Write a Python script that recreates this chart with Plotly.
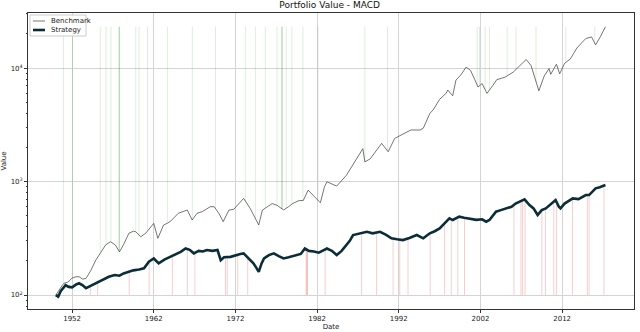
import math
import pandas as pd
import plotly.graph_objects as go

# ---------------- data ----------------
bench_years = [1950.0, 1950.4, 1950.8, 1951.0, 1951.5, 1952.0, 1952.5, 1952.85, 1953.3, 1953.7,
               1954.3, 1954.9, 1955.5, 1956.1, 1956.7, 1957.3, 1957.8, 1958.3, 1958.95, 1959.5,
               1959.8, 1960.4, 1961.0, 1961.5, 1962.0, 1962.5, 1963.2, 1963.7, 1964.1, 1965.0,
               1965.5, 1966.1, 1966.7, 1967.3, 1968.0, 1968.9, 1969.4, 1970.0, 1970.5, 1971.2,
               1971.8, 1972.5, 1973.0, 1973.8, 1974.4, 1974.85, 1975.3, 1975.9, 1976.5, 1977.1,
               1977.9, 1978.5, 1979.0, 1979.8, 1980.3, 1980.9, 1981.5, 1982.4, 1982.9, 1983.2,
               1984.4, 1985.6, 1986.6, 1987.6, 1987.85, 1988.5, 1989.9, 1990.7, 1991.5, 1992.5,
               1993.5, 1994.6, 1995.0, 1995.8, 1996.2, 1997.0, 1997.8, 1998.0, 1998.6, 1999.0,
               1999.6, 2000.25, 2000.8, 2001.3, 2001.7, 2002.2, 2002.8, 2003.5, 2004.0, 2005.0,
               2006.0, 2007.0, 2007.6, 2008.2, 2008.8, 2009.15, 2009.8, 2010.4, 2010.6, 2011.3,
               2011.7, 2012.3, 2013.0, 2013.8, 2014.5, 2014.9, 2015.6, 2015.9, 2016.1, 2016.7,
               2017.3]
bench_vals = [100, 112, 122, 127, 130, 141, 145, 145, 138, 140,
              165, 203, 240, 276, 295, 276, 240, 278, 350, 365,
              361, 326, 350, 390, 428, 316, 414, 430, 450, 525,
              540, 561, 458, 525, 545, 600, 600, 520, 443, 560,
              570, 650, 711, 580, 480, 414, 560, 600, 640, 617,
              561, 600, 640, 680, 680, 840, 760, 650, 900, 995,
              912, 1140, 1490, 1950, 1490, 1585, 2170, 1830, 2400, 2600,
              2850, 2840, 2950, 3980, 4270, 5300, 6000, 6400, 5700, 7830,
              8700, 10200, 9500, 7900, 6800, 7300, 5980, 7000, 7900, 8300,
              9200, 10800, 11900, 10500, 7500, 6300, 8500, 9900, 8800, 10800,
              8900, 11000, 12000, 15000, 17000, 18200, 18800, 17000, 16000, 19000,
              23100]

strat_years = [1950.0, 1950.3, 1950.6, 1951.2, 1951.6, 1952.0, 1952.5, 1952.85, 1953.3, 1953.7,
               1954.2, 1954.9, 1955.5, 1956.0, 1956.5, 1957.2, 1957.8, 1958.3, 1958.8, 1959.5,
               1960.2, 1960.8, 1961.4, 1962.0, 1962.6, 1963.3, 1964.0, 1964.5, 1965.3, 1965.9,
               1966.4, 1966.9, 1967.5, 1968.0, 1968.5, 1969.2, 1969.8, 1970.2, 1970.6, 1971.4,
               1972.0, 1972.6, 1973.0, 1973.6, 1974.2, 1974.6, 1974.85, 1975.2, 1975.5, 1976.1,
               1976.7, 1977.3, 1977.9, 1978.5, 1979.3, 1980.0, 1980.5, 1981.0, 1981.6, 1982.2,
               1982.4, 1983.2, 1983.8, 1984.4, 1985.0, 1985.6, 1986.0, 1986.4, 1987.0, 1987.6,
               1988.1, 1988.8, 1989.7, 1990.4, 1991.1, 1991.8, 1992.5, 1993.3, 1994.2, 1995.0,
               1995.8, 1996.4, 1997.0, 1997.6, 1998.2, 1998.6, 1999.4, 2000.0, 2000.66, 2001.5,
               2002.2, 2002.7, 2003.1, 2003.9, 2004.5, 2005.1, 2005.8, 2006.3, 2006.8, 2007.4,
               2008.0, 2008.5, 2009.0, 2009.5, 2010.0, 2010.5, 2011.2, 2011.6, 2011.8, 2012.3,
               2013.3, 2014.0, 2014.9, 2015.3, 2015.8, 2016.1, 2016.6, 2017.3]
strat_vals = [100, 97, 108, 122, 118, 117, 124, 127, 122, 115,
              120, 127, 135, 140, 145, 150, 148, 155, 160, 165,
              168, 172, 197, 210, 190, 205, 217, 225, 240, 257,
              250, 233, 245, 242, 249, 245, 249, 203, 215, 217,
              225, 230, 233, 210, 190, 172, 160, 190, 210, 225,
              233, 220, 210, 215, 222, 230, 257, 245, 242, 236,
              240, 257, 245, 225, 245, 276, 300, 338, 345, 350,
              361, 350, 361, 340, 316, 310, 305, 318, 338, 316,
              350, 365, 386, 428, 474, 458, 490, 480, 474, 460,
              465, 443, 458, 542, 560, 580, 600, 640, 664, 697,
              620, 580, 507, 560, 580, 620, 687, 600, 580, 640,
              711, 700, 760, 760, 820, 871, 890, 933]

buy_years = [1950.94, 1952.05, 1955.45, 1956.15, 1956.76, 1957.74, 1957.77, 1957.8, 1959.8,
             1960.2, 1961.23, 1963.67, 1966.72, 1969.56, 1973.22, 1974.44, 1975.66, 1977.09,
             1977.67, 1977.7, 1977.73, 1978.22, 1978.91, 1980.26, 1982.1, 1987.85, 1990.62,
             2001.6, 2001.88, 2002.57, 2003.1, 2005.26, 2006.35, 2008.8, 2012.45, 2016.0]
sell_years = [1954.23, 1955.13, 1958.99, 1961.43, 1964.28, 1966.11, 1967.04, 1970.78, 1970.99,
              1972.28, 1973.5, 1980.66, 1980.75, 1980.82, 1982.98, 1987.45, 1989.28, 1991.3,
              1992.12, 1993.13, 1995.84, 1997.61, 1998.43, 1999.23, 2000.05, 2006.1, 2006.96,
              2007.16, 2007.46, 2009.52, 2009.96, 2010.98, 2011.3, 2013.26, 2015.09, 2015.3,
              2017.12]

tick_years = [1952, 1962, 1972, 1982, 1992, 2002, 2012]
y_ticks = [100, 1000, 10000]
y_tick_text = ["10<sup>2</sup>", "10<sup>3</sup>", "10<sup>4</sup>"]
legend_names = ["Benchmark", "Strategy"]

BENCH_COLOR = "#3a3a3a"
STRAT_COLOR = "#0a2d38"


# ---------------- helpers ----------------
def to_date(y):
    yi = int(y)
    return pd.Timestamp(year=yi, month=1, day=1) + pd.Timedelta(days=(y - yi) * 365.25)


def interp(xs, ys, x):
    if x <= xs[0]:
        return ys[0]
    for i in range(1, len(xs)):
        if x <= xs[i]:
            t = (x - xs[i - 1]) / (xs[i] - xs[i - 1])
            return 10 ** (math.log10(ys[i - 1]) * (1 - t) + math.log10(ys[i]) * t)
    return ys[-1]


bench_dates = [to_date(y) for y in bench_years]
strat_dates = [to_date(y) for y in strat_years]
bench_max = max(bench_vals)
strat_base = strat_vals[0]

bx, by = [], []
for y in buy_years:
    d = to_date(y)
    bx += [d, d, None]
    by += [interp(bench_years, bench_vals, y), bench_max, None]

sx, sy = [], []
for y in sell_years:
    d = to_date(y)
    sx += [d, d, None]
    sy += [strat_base, interp(strat_years, strat_vals, y), None]

fig = go.Figure()
fig.add_trace(go.Scatter(x=bx, y=by, mode="lines", showlegend=False, hoverinfo="skip",
                         line=dict(color="rgba(0,140,0,0.14)", width=1)))
fig.add_trace(go.Scatter(x=sx, y=sy, mode="lines", showlegend=False, hoverinfo="skip",
                         line=dict(color="rgba(230,0,0,0.2)", width=1)))
fig.add_trace(go.Scatter(x=bench_dates, y=bench_vals, mode="lines", name=legend_names[0],
                         showlegend=False, line=dict(color=BENCH_COLOR, width=0.7)))
fig.add_trace(go.Scatter(x=strat_dates, y=strat_vals, mode="lines", name=legend_names[1],
                         showlegend=False, line=dict(color=STRAT_COLOR, width=2.6)))

# plot area in pixels: x 28..634, y 13..309
PL, PR, PT, PB = 28, 634, 13, 309
W, H = PR - PL, PB - PT


def px_x(p):
    return (p - PL) / W


def px_y(p):
    return (PB - p) / H


shapes = [
    dict(type="rect", xref="paper", yref="paper", x0=px_x(30), x1=px_x(86), y0=px_y(36), y1=px_y(15),
         line=dict(color="#cccccc", width=1), fillcolor="rgba(255,255,255,0.85)", layer="above"),
    dict(type="line", xref="paper", yref="paper", x0=px_x(33), x1=px_x(45), y0=px_y(21), y1=px_y(21),
         line=dict(color=BENCH_COLOR, width=0.7), layer="above"),
    dict(type="line", xref="paper", yref="paper", x0=px_x(33), x1=px_x(45), y0=px_y(30), y1=px_y(30),
         line=dict(color=STRAT_COLOR, width=2.6), layer="above"),
]
annotations = [
    dict(xref="paper", yref="paper", x=px_x(49), y=px_y(21), text=legend_names[0], showarrow=False,
         xanchor="left", yanchor="middle", font=dict(size=7, color="#222")),
    dict(xref="paper", yref="paper", x=px_x(49), y=px_y(30), text=legend_names[1], showarrow=False,
         xanchor="left", yanchor="middle", font=dict(size=7, color="#222")),
]

fig.update_layout(
    width=640, height=332,
    margin=dict(l=PL, r=640 - PR, t=PT, b=332 - PB, autoexpand=False),
    paper_bgcolor="white", plot_bgcolor="white",
    font=dict(family="DejaVu Sans", size=7, color="#222"),
    title=dict(text="Portfolio Value - MACD", x=0.515, xanchor="center",
               yref="container", y=1 - 1.5 / 332, yanchor="top",
               font=dict(size=9, color="#111")),
    showlegend=False,
    shapes=shapes,
    annotations=annotations,
)
fig.update_xaxes(
    type="date", automargin=False,
    range=[to_date(1946.6), to_date(2020.8)],
    tickvals=[to_date(y) for y in tick_years],
    ticktext=[str(y) for y in tick_years],
    showgrid=True, gridcolor="#d4d4d4", gridwidth=0.8,
    showline=True, linecolor="#333", linewidth=0.8, mirror=True,
    ticks="outside", ticklen=3, tickcolor="#333",
    title=dict(text="Date", standoff=1, font=dict(size=7)),
    zeroline=False,
)
fig.update_yaxes(
    type="log", automargin=False,
    range=[1.877, 4.485],
    tickvals=y_ticks, ticktext=y_tick_text,
    showgrid=True, gridcolor="#d4d4d4", gridwidth=0.8,
    showline=True, linecolor="#333", linewidth=0.8, mirror=True,
    ticks="outside", ticklen=3, tickcolor="#333",
    minor=dict(ticks="outside", ticklen=1.5, tickcolor="#333",
               tickvals=[v * m for v in [10, 100, 1000, 10000] for m in range(2, 10)],
               showgrid=False),
    title=dict(text="Value", standoff=5, font=dict(size=7)),
    zeroline=False,
)

fig.write_html("out.html", config={"displayModeBar": False},
               post_script="document.body.style.margin='0';")
